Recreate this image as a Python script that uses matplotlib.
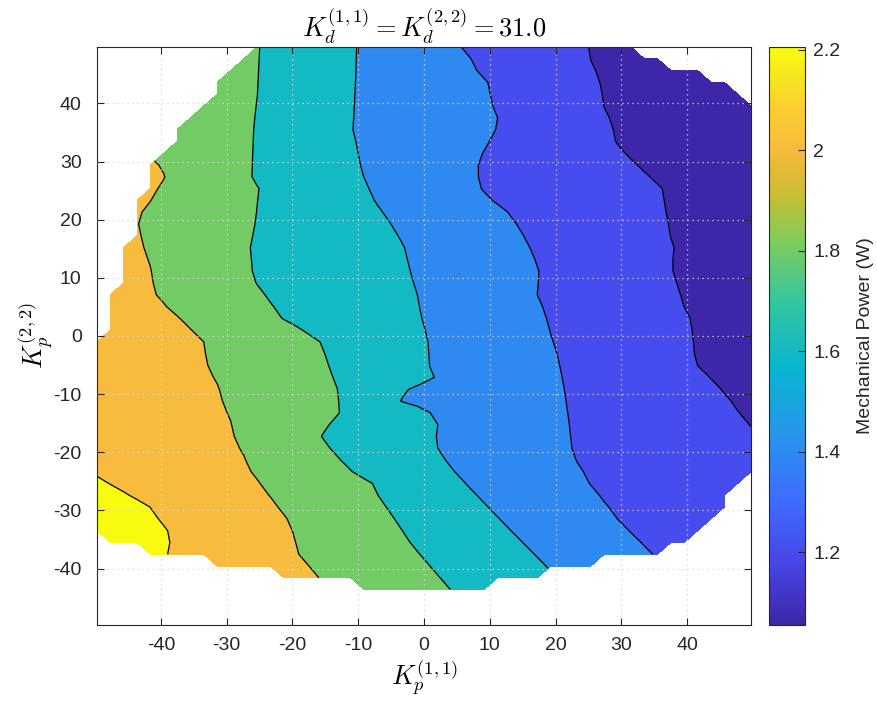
import numpy as np
import matplotlib
matplotlib.use("Agg")
import matplotlib.pyplot as plt
from matplotlib.colors import LinearSegmentedColormap, Normalize
from matplotlib.cm import ScalarMappable

plt.rcParams["font.family"] = ["Liberation Sans", "DejaVu Sans"]
plt.rcParams["mathtext.fontset"] = "cm"
plt.rcParams["axes.unicode_minus"] = False

# ---------------------------------------------------------------------------
# Data
# ---------------------------------------------------------------------------
# Sampling grid of the two proportional gains
kp11 = np.linspace(-49.7, 49.7, 50)
kp22 = np.linspace(-49.7, 49.7, 50)

# Range of valid (computed) columns for every row of the grid; None = no data
row_first = [None, None, None, 20, 14, 9, 4, 1] + [0] * 17 + [1] * 4 + [2] * 4 \
    + [3] * 4 + [4] * 3 + [5, 6, 6, 7, 8, 9, 9, 10, 11, 12]
row_last = [None, None, None, 29, 33, 37, 42, 44, 45, 46, 47, 47, 48] + [49] * 32 \
    + [48, 47, 45, 42, 40]

# Contour levels of the mechanical power (W) and the iso-lines traced on the
# (Kp11, Kp22) plane, listed from top to bottom.
power_min, power_max = 1.055, 2.205
contour_levels = [2.1, 1.9, 1.7, 1.5, 1.3, 1.1]

iso_2p1_x = [-70, -70, -56, -49.7, -46.6, -43.5, -41.5, -40.3, -39.0, -38.6, -39.0, -37.0, -33.0]
iso_2p1_y = [50, -5, -20, -24.4, -26.1, -28.4, -29.5, -31.6, -33.3, -35.3, -37.6, -42, -50]

iso_1p9_x = [-60, -45, -40.35, -39.2, -40.25, -42.5, -43.3, -41.5, -40.5, -39.5, -37.5, -34.3,
             -33.4, -32.7, -31.9, -30.9, -29.4, -27.9, -26.3, -23.8, -20.8, -20.0, -19.0,
             -16.0, -14.0, -10.0]
iso_1p9_y = [50, 36, 30.3, 27.4, 25.1, 21.7, 19.4, 11.9, 7.3, 5.6, 3.9, 0.0,
             -1.1, -4.5, -6.8, -9.1, -14.3, -18.9, -22.9, -27.0, -31.3, -33.3, -37.6,
             -41.4, -46, -50]

iso_1p7_x = [-24.6, -25.8, -26.3, -25.1, -25.6, -26.6, -26.3, -25.3, -23.3, -21.3, -16.9, -15.7,
             -14.2, -12.8, -12.8, -14.2, -15.8, -15.2, -13.7, -11.2, -9.1, -7.6, -7.1, -5.1,
             -2.1, 0.0, 4.05, 6.0]
iso_1p7_y = [49.8, 35.5, 27.4, 25.4, 19.9, 15.3, 10.7, 8.4, 5.6, 2.4, 0.2, -1.1,
             -5.7, -10.3, -13.2, -14.9, -17.0, -18.3, -20.1, -23.2, -24.1, -25.5, -27.2, -30.4,
             -35.5, -38.4, -43.6, -50]

iso_1p5_x = [-10.3, -10.9, -9.4, -7.6, -5.1, -3.1, -1.05, 0.0, 0.5, 0.8, 1.5, -1.05, -2.6,
             -4.1, -3.1, 0.0, 1.0, 2.0, 1.8, 2.0, 5.1, 7.6, 10.1, 18.75, 21.0, 28.0]
iso_1p5_y = [49.8, 35.5, 28.0, 23.4, 19.4, 15.9, 7.3, 1.6, 0.0, -5.2, -7.2, -7.4, -9.1,
             -11.1, -12.7, -13.0, -13.2, -15.2, -17.2, -19.5, -24.1, -27.0, -29.9, -39.8, -43, -50]

iso_1p3_x = [5.5, 7.6, 8.1, 9.9, 10.4, 11.2, 10.9, 8.6, 8.0, 8.1, 8.9, 10.1, 12.9, 15.2,
             16.7, 17.5, 17.2, 18.2, 19.3, 20.3, 21.5, 22.3, 23.1, 25.3, 29.9, 34.5, 38, 45]
iso_1p3_y = [49.8, 47.1, 45.5, 43.5, 40.1, 37.5, 35.2, 30.9, 29.1, 26.3, 24.5, 23.4, 21.1, 17.1,
             13.6, 11.0, 7.0, 4.4, 0.1, -3.4, -10.1, -19.5, -21.6, -25.9, -32.2, -37.5, -42, -50]

iso_1p1_x = [24.7, 27.1, 28.9, 30.4, 32.9, 36.0, 36.5, 37.8, 37.6, 38.3, 40.0, 40.5, 40.8,
             41.6, 43.6, 45.6, 49.7, 56, 70]
iso_1p1_y = [49.8, 40.1, 33.2, 31.2, 28.6, 25.4, 21.1, 15.3, 11.6, 7.9, 3.9, 0.0, -3.4,
             -5.2, -7.5, -10.1, -15.8, -24, -50]

iso_lines = [(iso_2p1_x, iso_2p1_y), (iso_1p9_x, iso_1p9_y), (iso_1p7_x, iso_1p7_y),
             (iso_1p5_x, iso_1p5_y), (iso_1p3_x, iso_1p3_y), (iso_1p1_x, iso_1p1_y)]

# ---------------------------------------------------------------------------
# Power map on the grid, rebuilt row by row from the iso-lines
# ---------------------------------------------------------------------------
power = np.full((kp22.size, kp11.size), np.nan)
for j, y in enumerate(kp22):
    if row_first[j] is None:
        continue
    xs = [np.interp(y, ly[::-1], lx[::-1]) for lx, ly in iso_lines]
    xp = [xs[0] - 10] + xs + [xs[-1] + 10]
    fp = [power_max] + contour_levels + [power_min]
    row = np.interp(kp11, xp, fp)
    i0, i1 = row_first[j], row_last[j]
    power[j, i0:i1 + 1] = row[i0:i1 + 1]
power = np.ma.masked_invalid(power)

# ---------------------------------------------------------------------------
# Parula-like colour map
# ---------------------------------------------------------------------------
parula_nodes = [
    (0.000, (0.2422, 0.1504, 0.6603)),
    (0.111, (0.2803, 0.2782, 0.9221)),
    (0.222, (0.2440, 0.4358, 0.9988)),
    (0.333, (0.1540, 0.5902, 0.9218)),
    (0.444, (0.0297, 0.7082, 0.8163)),
    (0.556, (0.1938, 0.7758, 0.6251)),
    (0.667, (0.5044, 0.7993, 0.3480)),
    (0.735, (0.7500, 0.7500, 0.2100)),
    (0.778, (0.8700, 0.7300, 0.2100)),
    (0.822, (0.9700, 0.7300, 0.2400)),
    (0.889, (0.9900, 0.8000, 0.1900)),
    (0.944, (0.9600, 0.8900, 0.1300)),
    (1.000, (0.9763, 0.9831, 0.0538)),
]
parula = LinearSegmentedColormap.from_list("parula", parula_nodes, N=256)
norm = Normalize(vmin=power_min, vmax=power_max)

fill_values = [power_min, 1.2, 1.4, 1.6, 1.8, 2.0, power_max]
fill_colors = [parula(norm(v)) for v in fill_values]
fill_bounds = [1.0] + sorted(contour_levels) + [2.3]

# ---------------------------------------------------------------------------
# Figure
# ---------------------------------------------------------------------------
ink = (0.15, 0.15, 0.15)
fig = plt.figure(figsize=(8.78, 7.02), dpi=100)
ax = fig.add_axes([97 / 878, 77 / 702, 654 / 878, 578 / 702])

ax.contourf(kp11, kp22, power, levels=fill_bounds, colors=fill_colors, zorder=1)
ax.contour(kp11, kp22, power, levels=sorted(contour_levels), colors="k",
           linewidths=0.9, zorder=2)

ax.set_xlim(-49.7, 49.7)
ax.set_ylim(-49.7, 49.7)
ticks = np.arange(-40, 41, 10)
ax.set_xticks(ticks)
ax.set_yticks(ticks)
ax.set_xticklabels([str(t) for t in ticks])
ax.set_yticklabels([str(t) for t in ticks])
ax.tick_params(direction="in", length=5, width=0.8, top=True, right=True,
               labelsize=14, colors=ink)
ax.tick_params(axis="x", pad=9)
ax.tick_params(axis="y", pad=11)
for sp in ax.spines.values():
    sp.set_linewidth(0.8)
    sp.set_color(ink)
ax.set_axisbelow(False)
ax.grid(True, color="#d6d6d6", linestyle=(0, (1, 3)), linewidth=0.9)

ax.set_title(r"$K_d^{(1,1)} = K_d^{(2,2)} = 31.0$", fontsize=19, color="k", pad=7)
ax.set_xlabel(r"$K_p^{(1,1)}$", fontsize=19, color="k")
ax.set_ylabel(r"$K_p^{(2,2)}$", fontsize=19, color="k")
ax.xaxis.set_label_coords(0.5, -0.058)
ax.yaxis.set_label_coords(-0.063, 0.5)

cax = fig.add_axes([769 / 878, 77 / 702, 36 / 878, 578 / 702])
sm = ScalarMappable(norm=norm, cmap=parula)
cb = fig.colorbar(sm, cax=cax)
cb.set_ticks([1.2, 1.4, 1.6, 1.8, 2.0, 2.2])
cb.set_ticklabels(["1.2", "1.4", "1.6", "1.8", "2", "2.2"])
cb.ax.tick_params(direction="in", length=5, width=0.8, labelsize=14, colors=ink, pad=6)
cb.outline.set_linewidth(0.8)
cb.outline.set_edgecolor(ink)
cb.set_label("Mechanical Power (W)", fontsize=14, color=ink, labelpad=12)

fig.savefig("out.png", dpi=100)
